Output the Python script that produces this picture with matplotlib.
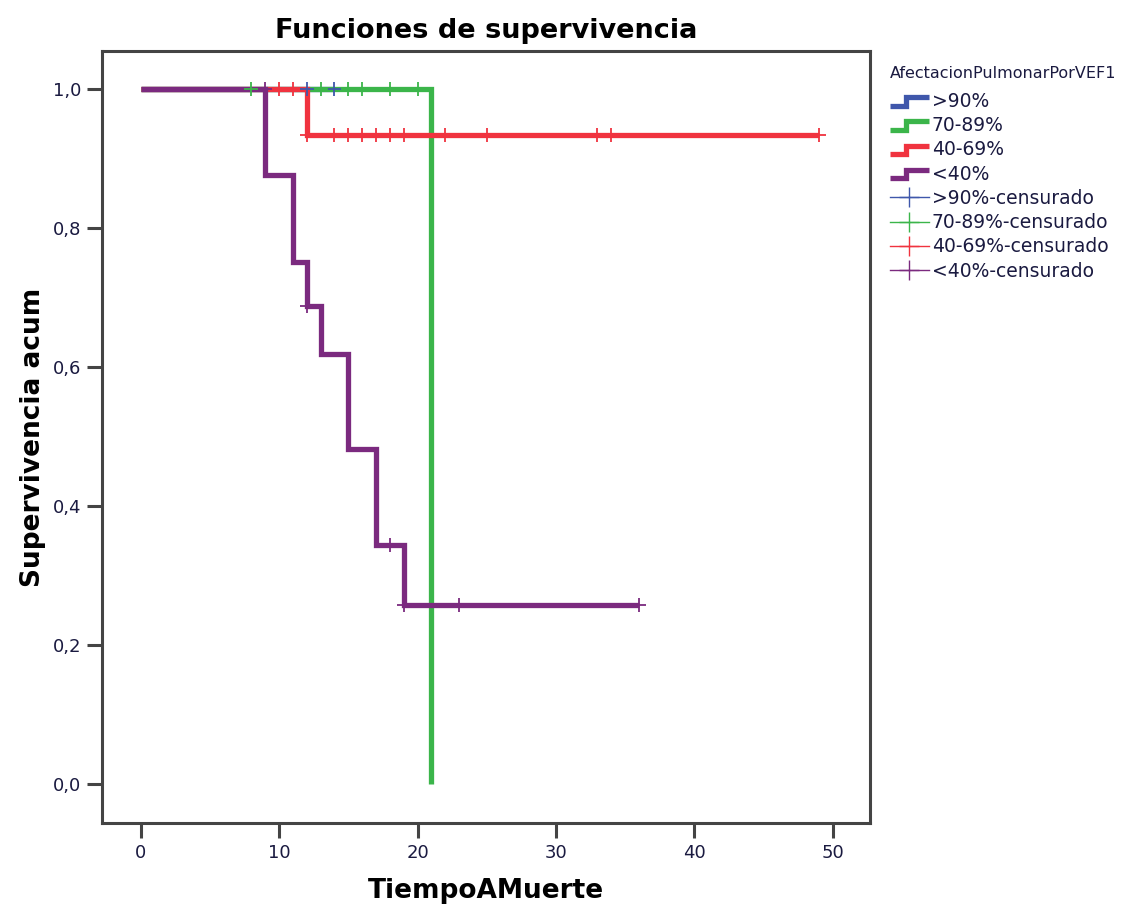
import matplotlib
matplotlib.use("Agg")
import matplotlib.pyplot as plt
import numpy as np
from matplotlib.legend_handler import HandlerBase
from matplotlib.lines import Line2D

plt.rcParams['font.family'] = ['DejaVu Sans']

groups = [">90%", "70-89%", "40-69%", "<40%"]
colors = ["#3f57ab", "#3bb54a", "#f0333f", "#7b2a7f"]

# step curves: times where survival changes, and survival level from that time
blue_times = [0]
blue_surv = [1.0]
blue_end = 14
blue_cens = [12, 14]
blue_cens_surv = [1.0, 1.0]

green_times = [0, 21]
green_surv = [1.0, 0.0]
green_end = 21
green_cens = [8, 13, 15, 16, 18, 20]
green_cens_surv = [1.0, 1.0, 1.0, 1.0, 1.0, 1.0]

red_times = [0, 12]
red_surv = [1.0, 0.9333]
red_end = 49
red_cens = [10, 11, 12, 14, 15, 16, 17, 18, 19, 22, 25, 33, 34, 49]
red_cens_surv = [1.0, 1.0] + [0.9333] * 12

purple_times = [0, 9, 11, 12, 13, 15, 17, 19]
purple_surv = [1.0, 0.875, 0.75, 0.6875, 0.6188, 0.4813, 0.3438, 0.2578]
purple_end = 36
purple_cens = [9, 12, 18, 19, 23, 36]
purple_cens_surv = [1.0, 0.6875, 0.3438, 0.2578, 0.2578, 0.2578]

x_ticks = [0, 10, 20, 30, 40, 50]
y_ticks = [0.0, 0.2, 0.4, 0.6, 0.8, 1.0]
y_ticklabels = ["0,0", "0,2", "0,4", "0,6", "0,8", "1,0"]

series = [
    (blue_times, blue_surv, blue_end, blue_cens, blue_cens_surv),
    (green_times, green_surv, green_end, green_cens, green_cens_surv),
    (red_times, red_surv, red_end, red_cens, red_cens_surv),
    (purple_times, purple_surv, purple_end, purple_cens, purple_cens_surv),
]

fig = plt.figure(figsize=(11.31, 9.10), dpi=100)
W, H = 1131, 910
ax = fig.add_axes([102 / W, 1 - 823 / H, (870 - 102) / W, (823 - 51) / H])

for (t, s, end, cens, cs), c in zip(series, colors):
    xs = list(t) + [end]
    ys = list(s) + [s[-1]]
    ax.step(xs, ys, where='post', color=c, lw=3.8, solid_joinstyle='miter',
            solid_capstyle='butt', zorder=2)

for (t, s, end, cens, cs), c in zip(series, colors):
    ax.plot(cens, cs, linestyle='none', marker='+', color=c, markersize=10,
            markeredgewidth=1.3, zorder=3)

ax.set_xlim(-2.8, 52.7)
ax.set_ylim(-0.056, 1.054)
ax.set_xticks(x_ticks)
ax.set_yticks(y_ticks)
ax.set_yticklabels(y_ticklabels)
ax.tick_params(direction='out', length=11, width=2.2, color='#444444',
               labelsize=13, labelcolor='#1a1a40', pad=4)
for sp in ax.spines.values():
    sp.set_linewidth(2.2)
    sp.set_color('#444444')

ax.set_xlabel("TiempoAMuerte", fontsize=19, fontweight='bold', labelpad=12)
ax.set_ylabel("Supervivencia acum", fontsize=19, fontweight='bold', labelpad=5)
ax.set_title("Funciones de supervivencia", fontsize=19.5, fontweight='bold', pad=9)


class StepHandler(HandlerBase):
    def __init__(self, color):
        super().__init__()
        self.color = color

    def create_artists(self, legend, orig_handle, xdescent, ydescent, width, height, fontsize, trans):
        x0 = -xdescent
        y0 = -ydescent
        xs = [x0, x0 + width * 0.4, x0 + width * 0.4, x0 + width]
        ys = [y0 + height * 0.1, y0 + height * 0.1, y0 + height * 0.75, y0 + height * 0.75]
        ln = Line2D(xs, ys, color=self.color, lw=3.8, solid_joinstyle='miter',
                    solid_capstyle='butt', transform=trans)
        return [ln]


handles = []
labels = []
handler_map = {}
for g, c in zip(groups, colors):
    h = Line2D([], [], color=c)
    handles.append(h)
    labels.append(g)
    handler_map[h] = StepHandler(c)
for g, c in zip(groups, colors):
    h = Line2D([], [], color=c, lw=1.0, marker='+', markersize=15, markeredgewidth=1.0)
    handles.append(h)
    labels.append(g + "-censurado")

leg = fig.legend(handles, labels, handler_map=handler_map, loc='upper left',
                 bbox_to_anchor=(886 / W, 1 - 62 / H), frameon=False,
                 title="AfectacionPulmonarPorVEF1", title_fontsize=11.5,
                 fontsize=13.5, handlelength=2.1, handletextpad=0.15,
                 labelspacing=0.28, alignment='left', borderaxespad=0,
                 borderpad=0.2)
leg._legend_box.sep = 8
for txt in leg.get_texts():
    txt.set_color('#1a1a40')
leg.get_title().set_color('#1a1a40')

fig.savefig("out.png", dpi=100, facecolor='white')
